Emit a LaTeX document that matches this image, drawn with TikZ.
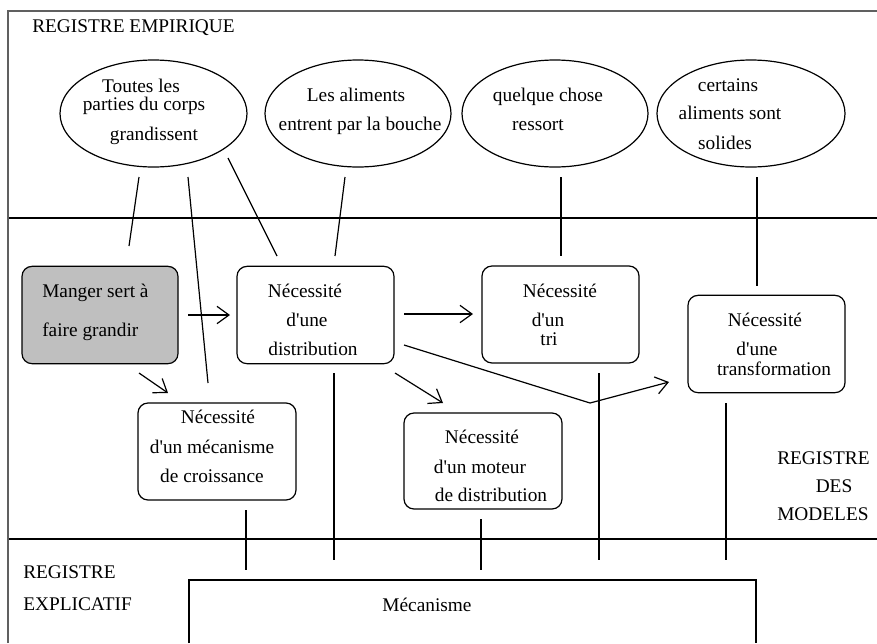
\documentclass[tikz,border=0pt]{standalone}
\usepackage{fontspec}
\setmainfont{Liberation Serif}
\usetikzlibrary{shapes.geometric,arrows.meta,calc}
\newcommand{\ap}{\textquotesingle}
\begin{document}
\begin{tikzpicture}[x=0.75pt,y=-0.75pt,
  every node/.style={font=\fontsize{14.5}{17}\selectfont},
  frame/.style={draw=gray!75!black, line width=0.8pt},
  sep/.style={draw=black, line width=1pt},
  bubble/.style={ellipse, draw, line width=0.9pt, inner sep=0pt, minimum height=80.25pt},
  rbox/.style={rectangle, rounded corners=7.5pt, draw, line width=0.9pt, inner sep=0pt, minimum width=117.75pt, minimum height=73pt},
  txt/.style={anchor=base, inner sep=0pt},
  ltxt/.style={anchor=base west, inner sep=0pt},
  link/.style={draw, line width=0.9pt},
  arr/.style={draw, line width=0.9pt, -{Straight Barb[length=9pt,width=13pt,line width=0.9pt]}}
]
\useasboundingbox (0,0) rectangle (877,643);
% frame and register separators
\coordinate (fb) at (8,643); \coordinate (ftl) at (8,11); \coordinate (ftr) at (877,11);
\draw[frame] (fb) -- (ftl) -- (ftr);
\coordinate (s1a) at (9,218); \coordinate (s1b) at (877,218);
\coordinate (s2a) at (9,539); \coordinate (s2b) at (877,539);
\draw[sep] (s1a) -- (s1b);
\draw[sep] (s2a) -- (s2b);

% register labels
\node[ltxt] (remp) at (32,32) {REGISTRE EMPIRIQUE};
\node[ltxt] (rmod1) at (777,464) {REGISTRE};
\node[txt] (rmod2) at (834,492) {DES};
\node[ltxt] (rmod3) at (777,520) {MODELES};
\node[ltxt] (rexp1) at (23,578) {REGISTRE};
\node[ltxt] (rexp2) at (23,610) {EXPLICATIF};

% ellipses
\node[bubble, minimum width=140.25pt] (e1) at (153.5,113.5) {};
\node[bubble, minimum width=139.5pt] (e2) at (358,113.5) {};
\node[bubble, minimum width=139.5pt] (e3) at (555,113.5) {};
\node[bubble, minimum width=141pt] (e4) at (751,113.5) {};
\node[txt] (e1a) at (141,92) {Toutes les};
\node[txt] (e1b) at (144,110) {parties du corps};
\node[txt] (e1c) at (154,140) {grandissent};
\node[txt] (e2a) at (356,101) {Les aliments};
\node[txt] (e2b) at (360,130) {entrent par la bouche};
\node[txt] (e3a) at (548,101) {quelque chose};
\node[txt] (e3b) at (538,130) {ressort};
\node[txt] (e4a) at (728,91) {certains};
\node[txt] (e4b) at (730,119) {aliments sont};
\node[txt] (e4c) at (725,149) {solides};

% boxes
\node[rbox, fill=gray!50, minimum width=117pt] (a) at (100,315) {};
\node[rbox] (b) at (315.5,315) {};
\node[rbox, minimum height=72.75pt] (c) at (560.5,314.5) {};
\node[rbox] (d) at (766.5,344) {};
\node[rbox, minimum width=118.5pt, minimum height=72.75pt] (e) at (217,451.5) {};
\node[rbox, minimum width=118.5pt, minimum height=72pt] (f) at (483,461) {};

\node[ltxt] (aa) at (42,297) {Manger sert à};
\node[ltxt] (ab) at (42,336) {faire grandir};
\node[txt] (ba) at (305,297) {Nécessité};
\node[txt] (bb) at (307,326) {d\ap une};
\node[txt] (bc) at (313,355) {distribution};
\node[txt] (ca) at (560,297) {Nécessité};
\node[txt] (cb) at (548,326) {d\ap un};
\node[txt] (cc) at (549,345) {tri};
\node[txt] (da) at (765,326) {Nécessité};
\node[txt] (db) at (757,355) {d\ap une};
\node[txt] (dc) at (774,375) {transformation};
\node[txt] (ea) at (218,423) {Nécessité};
\node[txt] (eb) at (212,453) {d\ap un mécanisme};
\node[txt] (ec) at (212,482) {de croissance};
\node[txt] (fa) at (482,443) {Nécessité};
\node[txt] (fb2) at (480,473) {d\ap un moteur};
\node[txt] (fc) at (491,501) {de distribution};

% mechanism box (open at the bottom)
\coordinate (mbl) at (189,643); \coordinate (mtl) at (189,580);
\coordinate (mtr) at (756,580); \coordinate (mbr) at (756,643);
\draw[link] (mbl) -- (mtl) -- (mtr) -- (mbr);
\node[txt] (mech) at (427,611) {Mécanisme};

% links from empirical register
\coordinate (l1a) at (139,177); \coordinate (l1b) at (129,246);
\coordinate (l2a) at (188,177); \coordinate (l2b) at (208,383);
\coordinate (l3a) at (228,158); \coordinate (l3b) at (277,256);
\coordinate (l4a) at (345,177); \coordinate (l4b) at (335,256);
\coordinate (l5a) at (561,177); \coordinate (l5b) at (561,256);
\coordinate (l6a) at (757,177); \coordinate (l6b) at (757,286);
\draw[link] (l1a) -- (l1b);
\draw[link] (l2a) -- (l2b);
\draw[link] (l3a) -- (l3b);
\draw[link] (l4a) -- (l4b);
\draw[link] (l5a) -- (l5b);
\draw[link] (l6a) -- (l6b);

% links down to the explanatory register
\coordinate (m1a) at (246,510); \coordinate (m1b) at (246,570);
\coordinate (m2a) at (334,373); \coordinate (m2b) at (334,560);
\coordinate (m3a) at (481,519); \coordinate (m3b) at (481,570);
\coordinate (m4a) at (599,373); \coordinate (m4b) at (599,560);
\coordinate (m5a) at (726,403); \coordinate (m5b) at (726,560);
\draw[link] (m1a) -- (m1b);
\draw[link] (m2a) -- (m2b);
\draw[link] (m3a) -- (m3b);
\draw[link] (m4a) -- (m4b);
\draw[link] (m5a) -- (m5b);

% arrows
\coordinate (ab1) at (188,315); \coordinate (ab2) at (230,315);
\coordinate (bc1) at (404,314); \coordinate (bc2) at (473,314);
\coordinate (ae1) at (139,373); \coordinate (ae2) at (168,393);
\coordinate (bf1) at (395,373); \coordinate (bf2) at (443,403);
\coordinate (bd1) at (404,345); \coordinate (bdk) at (590,403); \coordinate (bd2) at (669,382);
\draw[arr] (ab1) -- (ab2);
\draw[arr] (bc1) -- (bc2);
\draw[arr] (ae1) -- (ae2);
\draw[arr] (bf1) -- (bf2);
\draw[arr] (bd1) -- (bdk) -- (bd2);
\end{tikzpicture}
\end{document}
